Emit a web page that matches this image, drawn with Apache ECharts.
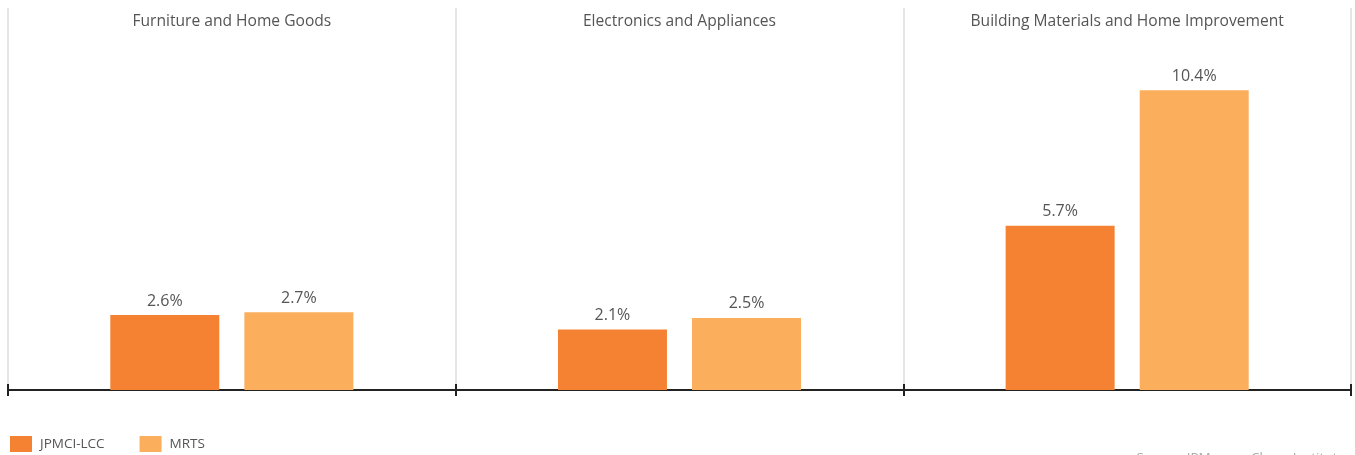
<!DOCTYPE html>
<html><head><meta charset="utf-8">
<script src="https://cdn.jsdelivr.net/npm/echarts@6/dist/echarts.min.js"></script>
<style>html,body{margin:0;padding:0;background:#fff}#c{width:1355px;height:455px}</style>
</head><body><div id="c"></div>
<script>
const categories = ['Furniture and Home Goods', 'Electronics and Appliances', 'Building Materials and Home Improvement'];
const jpmciLcc = [2.6, 2.1, 5.7];
const mrts = [2.7, 2.5, 10.4];
const seriesNames = ['JPMCI-LCC', 'MRTS'];
const sourceText = 'Source: JPMorgan Chase Institute';

const chart = echarts.init(document.getElementById('c'));
const font = '"Open Sans", "Noto Sans", sans-serif';
const lbl = {show: true, position: 'top', formatter: p => p.value.toFixed(1) + '%', color: '#555', fontSize: 16, fontFamily: font, distance: 6};
chart.setOption({
  animation: false,
  grid: {left: 8, right: 4, top: 8, bottom: 65},
  legend: {
    left: 5, bottom: -2, itemWidth: 22, itemHeight: 16, itemGap: 35,
    icon: 'rect',
    textStyle: {color: '#555', fontSize: 13.5, fontFamily: font, padding: [0, 0, 0, 3]},
    data: seriesNames
  },
  xAxis: [
    {type: 'category', data: categories, position: 'bottom',
     axisLine: {lineStyle: {color: '#222', width: 2}},
     axisTick: {show: true, length: 6, lineStyle: {color: '#222', width: 2}},
     axisLabel: {show: false},
     splitLine: {show: true, lineStyle: {color: '#ddd', width: 1.5}}},
    {type: 'category', data: categories, position: 'bottom',
     axisLine: {show: false},
     axisTick: {show: true, inside: true, length: 6, lineStyle: {color: '#222', width: 2}},
     axisLabel: {show: false}},
    {type: 'category', data: categories, position: 'top',
     axisLine: {show: false}, axisTick: {show: false},
     axisLabel: {show: true, inside: true, margin: 6, color: '#555', fontSize: 15.6, fontFamily: font, verticalAlign: 'top'}}
  ],
  yAxis: {type: 'value', min: 0, max: 13.25, show: false, splitLine: {show: false}},
  series: [
    {name: seriesNames[0], type: 'bar', data: jpmciLcc, barWidth: 109, barGap: '23%', itemStyle: {color: '#F58233'}, label: lbl},
    {name: seriesNames[1], type: 'bar', data: mrts, barWidth: 109, barGap: '23%', itemStyle: {color: '#FBAF5D'}, label: lbl}
  ],
  graphic: [{type: 'text', right: 10, top: 451, style: {text: sourceText, fill: '#aaa', font: '13.5px ' + font}}]
});
</script></body></html>
